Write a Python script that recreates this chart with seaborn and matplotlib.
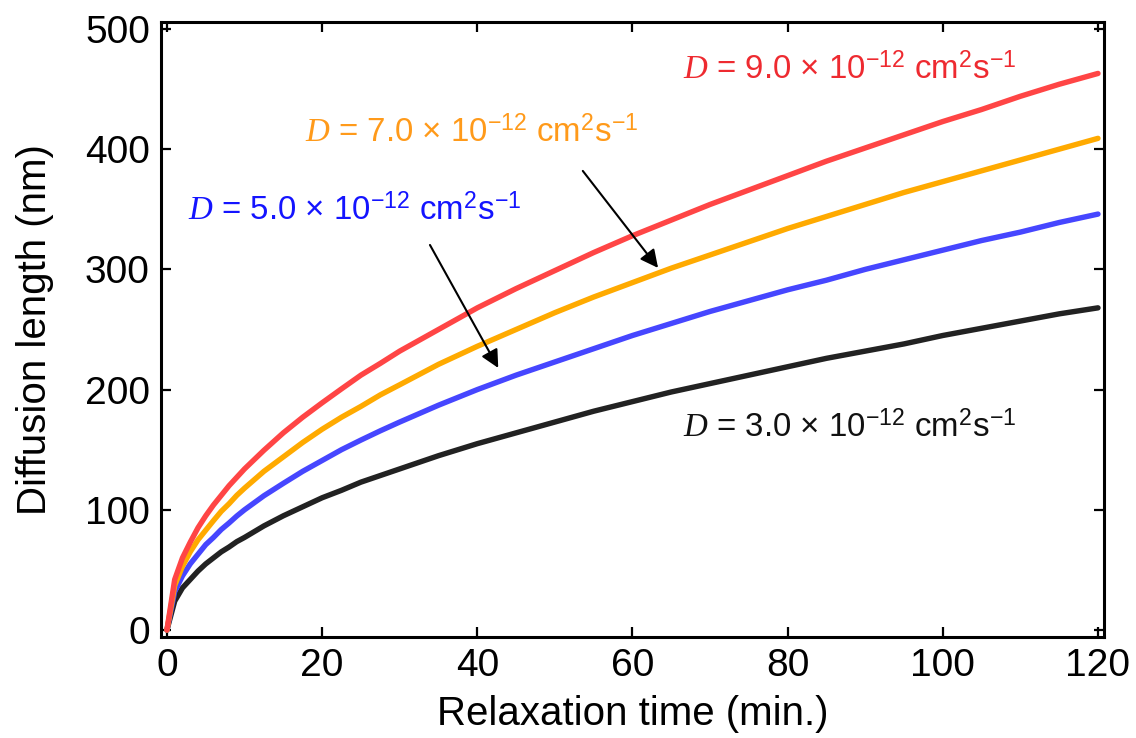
import matplotlib
matplotlib.use("Agg")
import matplotlib.pyplot as plt
import seaborn as sns
import pandas as pd

# ---- data ----
time_min = [0, 1, 2, 3, 4, 5, 6, 7, 8, 9, 10, 12.5, 15, 17.5, 20, 22.5, 25, 27.5, 30,
            35, 40, 45, 50, 55, 60, 65, 70, 75, 80, 85, 90, 95, 100, 105, 110, 115, 120]
len_D3 = [0, 24, 35, 42, 49, 55, 60, 65, 69, 73.5, 77, 86.6, 95, 102.5, 110, 116.2,
          123, 128.5, 134, 145, 155, 164, 173, 182, 190, 198, 205, 212, 219, 226,
          232, 238, 245, 251, 257, 263, 268]
len_D5 = [0, 32, 45, 55, 63, 71, 77, 83.6, 89, 94.8, 100, 111.7, 122, 132, 141, 150,
          158, 165.7, 173, 187, 200, 212, 223, 234, 245, 255, 265, 274, 283, 291,
          300, 308, 316, 324, 331, 339, 346]
len_D7 = [0, 37, 53, 65, 75, 83, 91, 98.7, 105, 112, 118, 132, 144, 156, 167, 177,
          186, 195.6, 204, 221, 236, 250, 264, 277, 289, 301, 312, 323, 334, 344,
          354, 364, 373, 382, 391, 400, 409]
len_D9 = [0, 42, 60, 73, 85, 95, 104, 112, 120, 127, 134, 149.5, 164, 177, 189, 200.6,
          212, 221.8, 232, 250, 268, 284, 299, 314, 328, 341, 354, 366, 378, 390,
          401, 412, 423, 433, 444, 454, 463]
series_names = ["D3", "D5", "D7", "D9"]
series_values = [len_D3, len_D5, len_D7, len_D9]
x_ticks = [0, 20, 40, 60, 80, 100, 120]
y_ticks = [0, 100, 200, 300, 400, 500]
labels_text = [r"$\mathit{D}$ = 3.0 × 10$^{\mathrm{-12}}$ cm$^{\mathrm{2}}$s$^{\mathrm{-1}}$",
               r"$\mathit{D}$ = 5.0 × 10$^{\mathrm{-12}}$ cm$^{\mathrm{2}}$s$^{\mathrm{-1}}$",
               r"$\mathit{D}$ = 7.0 × 10$^{\mathrm{-12}}$ cm$^{\mathrm{2}}$s$^{\mathrm{-1}}$",
               r"$\mathit{D}$ = 9.0 × 10$^{\mathrm{-12}}$ cm$^{\mathrm{2}}$s$^{\mathrm{-1}}$"]

# ---- styling ----
sns.set_theme(style="ticks")
plt.rcParams["font.family"] = ["Liberation Sans", "DejaVu Sans"]
plt.rcParams["mathtext.fontset"] = "custom"
plt.rcParams["mathtext.rm"] = "Liberation Sans"
plt.rcParams["mathtext.it"] = "Liberation Serif:italic"
plt.rcParams["mathtext.bf"] = "Liberation Sans:bold"
plt.rcParams["text.color"] = "black"
plt.rcParams["axes.labelcolor"] = "black"

line_colors = {"D3": "#222222", "D5": "#4646FF", "D7": "#FFAA00", "D9": "#FF4545"}
text_colors = {"D3": "#111111", "D5": "#1414FF", "D7": "#FF9A1A", "D9": "#EE2A30"}

rows = []
for name, vals in zip(series_names, series_values):
    for t, v in zip(time_min, vals):
        rows.append({"time": t, "length": v, "series": name})
df = pd.DataFrame(rows)

fig = plt.figure(figsize=(11.36, 7.38), dpi=100)
ax = fig.add_axes([0.1417, 0.1369, 0.9718 - 0.1417, 0.9702 - 0.1369])

sns.lineplot(data=df, x="time", y="length", hue="series", hue_order=series_names,
             palette=line_colors, linewidth=3.9, legend=False, ax=ax)
for ln in ax.lines:
    ln.set_solid_joinstyle("round")

ax.set_xlim(-0.77, 120.77)
ax.set_ylim(-5.8, 505.8)
ax.set_xticks(x_ticks)
ax.set_yticks(y_ticks)
ax.tick_params(direction="in", length=7, width=1.6, labelsize=28, pad=8,
               top=True, right=True, colors="black")
for s in ax.spines.values():
    s.set_linewidth(2.2)
    s.set_color("black")
    s.set_visible(True)

ax.set_xlabel("Relaxation time (min.)", fontsize=29, labelpad=8)
ax.set_ylabel("Diffusion length (nm)", fontsize=29, labelpad=22)

# annotations
text_pos = {"D9": (66.5, 466), "D7": (17.8, 413.5), "D5": (2.7, 349), "D3": (66.5, 168)}
for name, txt in zip(series_names, labels_text):
    x, y = text_pos[name]
    ax.text(x, y, txt, color=text_colors[name], fontsize=23.8, ha="left", va="center")

arrowprops = dict(arrowstyle="-|>,head_length=0.9,head_width=0.45", color="black", lw=1.5,
                  shrinkA=0, shrinkB=0)
ax.annotate("", xy=(63.3, 301.2), xytext=(53.6, 381.9), arrowprops=arrowprops)
ax.annotate("", xy=(42.7, 218.0), xytext=(33.9, 320.3), arrowprops=arrowprops)

fig.savefig("out.png", dpi=100)
